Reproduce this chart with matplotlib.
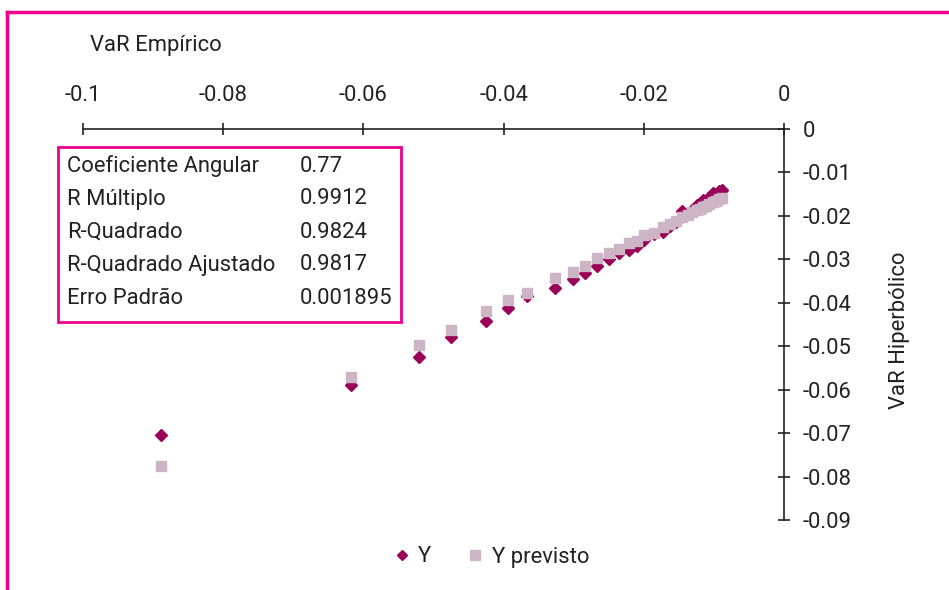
import matplotlib
matplotlib.use("Agg")
from matplotlib import pyplot as plt
from matplotlib.lines import Line2D
from matplotlib.patches import Rectangle

plt.rcParams["font.family"] = ["Roboto", "DejaVu Sans"]

# VaR Empírico (x) e VaR Hiperbólico (Y) com valores previstos pela regressão
var_empirico = [-0.0889, -0.0618, -0.0521, -0.0475, -0.0425, -0.0394, -0.0367, -0.0327,
                -0.0301, -0.0284, -0.0267, -0.0250, -0.0235, -0.0221, -0.0210, -0.0200,
                -0.0185, -0.0173, -0.0163, -0.0154, -0.0145, -0.0137, -0.0131, -0.0124,
                -0.0120, -0.0116, -0.0111, -0.0107, -0.0101, -0.0097, -0.0093, -0.0088]
y_obs = [-0.0704, -0.0589, -0.0525, -0.0479, -0.0442, -0.0412, -0.0384, -0.0366,
         -0.0345, -0.0331, -0.0315, -0.0299, -0.0285, -0.0279, -0.0269, -0.0256,
         -0.0242, -0.0237, -0.0223, -0.0214, -0.0189, -0.0196, -0.0186, -0.0175,
         -0.0175, -0.0163, -0.0166, -0.0157, -0.0147, -0.0150, -0.0143, -0.0140]
y_previsto = [-0.0776, -0.0571, -0.0497, -0.0463, -0.0419, -0.0394, -0.0378, -0.0343,
              -0.0329, -0.0315, -0.0297, -0.0286, -0.0276, -0.0262, -0.0258, -0.0244,
              -0.0239, -0.0226, -0.0219, -0.0212, -0.0203, -0.0198, -0.0191, -0.0186,
              -0.0184, -0.0180, -0.0177, -0.0173, -0.0168, -0.0166, -0.0161, -0.0159]

stat_names = ["Coeficiente Angular", "R Múltiplo", "R-Quadrado", "R-Quadrado Ajustado", "Erro Padrão"]
stat_values = ["0.77", "0.9912", "0.9824", "0.9817", "0.001895"]

x_ticks = [-0.1, -0.08, -0.06, -0.04, -0.02, 0]
x_labels = ["-0.1", "-0.08", "-0.06", "-0.04", "-0.02", "0"]
y_ticks = [0, -0.01, -0.02, -0.03, -0.04, -0.05, -0.06, -0.07, -0.08, -0.09]
y_labels = ["0", "-0.01", "-0.02", "-0.03", "-0.04", "-0.05", "-0.06", "-0.07", "-0.08", "-0.09"]

PINK = "#EC008C"
DARK = "#9B0058"
LIGHT = "#CDB5C5"
INK = "#222222"
FS = 15.8

W, H = 949, 590
fig = plt.figure(figsize=(W / 100, H / 100), dpi=100)
ax = fig.add_axes([83 / W, 1 - 520 / H, (784 - 83) / W, (520 - 129) / H])

ax.plot(var_empirico, y_obs, "D", ms=6, color=DARK, mec=DARK, label="Y", clip_on=False)
ax.plot(var_empirico, y_previsto, "s", ms=7, color=LIGHT, mec=LIGHT, label="Y previsto", clip_on=False)

ax.set_xlim(-0.1, 0)
ax.set_ylim(-0.09, 0)
for s in ["left", "bottom"]:
	ax.spines[s].set_visible(False)
for s in ["top", "right"]:
	ax.spines[s].set_color(INK)
	ax.spines[s].set_linewidth(1.2)
ax.xaxis.tick_top()
ax.yaxis.tick_right()
ax.set_xticks(x_ticks, labels=x_labels)
ax.set_yticks(y_ticks, labels=y_labels)
ax.tick_params(axis="x", direction="inout", length=9, width=1.2, color=INK, pad=12, labelsize=FS, labelcolor=INK)
ax.tick_params(axis="y", direction="inout", length=9, width=1.2, color=INK, pad=9, labelsize=FS, labelcolor=INK)

fig.text(90 / W, 1 - 45 / H, "VaR Empírico", fontsize=FS, color=INK, ha="left", va="center")
fig.text(900 / W, 1 - 330 / H, "VaR Hiperbólico", fontsize=FS, color=INK, ha="center", va="center", rotation=90)

# caixa com estatísticas da regressão
fig.add_artist(Rectangle((58 / W, 1 - 322 / H), (401 - 58) / W, (322 - 147) / H,
	transform=fig.transFigure, fill=True, facecolor="white", edgecolor=PINK, linewidth=2))
for i, (name, val) in enumerate(zip(stat_names, stat_values)):
	yy = 1 - (166 + i * 33) / H
	fig.text(67 / W, yy, name, fontsize=FS, color=INK, ha="left", va="center")
	fig.text(300 / W, yy, val, fontsize=FS, color=INK, ha="left", va="center")

# moldura rosa (apenas esquerda e topo visíveis)
fig.add_artist(Line2D([7 / W, 7 / W], [0, 1 - 12 / H], color=PINK, linewidth=2.5, transform=fig.transFigure))
fig.add_artist(Line2D([7 / W, 1], [1 - 12 / H, 1 - 12 / H], color=PINK, linewidth=2.5, transform=fig.transFigure))

handles = [Line2D([], [], ls="none", marker="D", ms=5.5, color=DARK),
	Line2D([], [], ls="none", marker="s", ms=6.5, color=LIGHT)]
fig.legend(handles, ["Y", "Y previsto"], loc="center", bbox_to_anchor=(490 / W, 1 - 557 / H), ncol=2,
	frameon=False, fontsize=FS, handletextpad=0.25, columnspacing=1.5, handlelength=1.0, labelcolor=INK)

fig.savefig("out.png", dpi=100)
